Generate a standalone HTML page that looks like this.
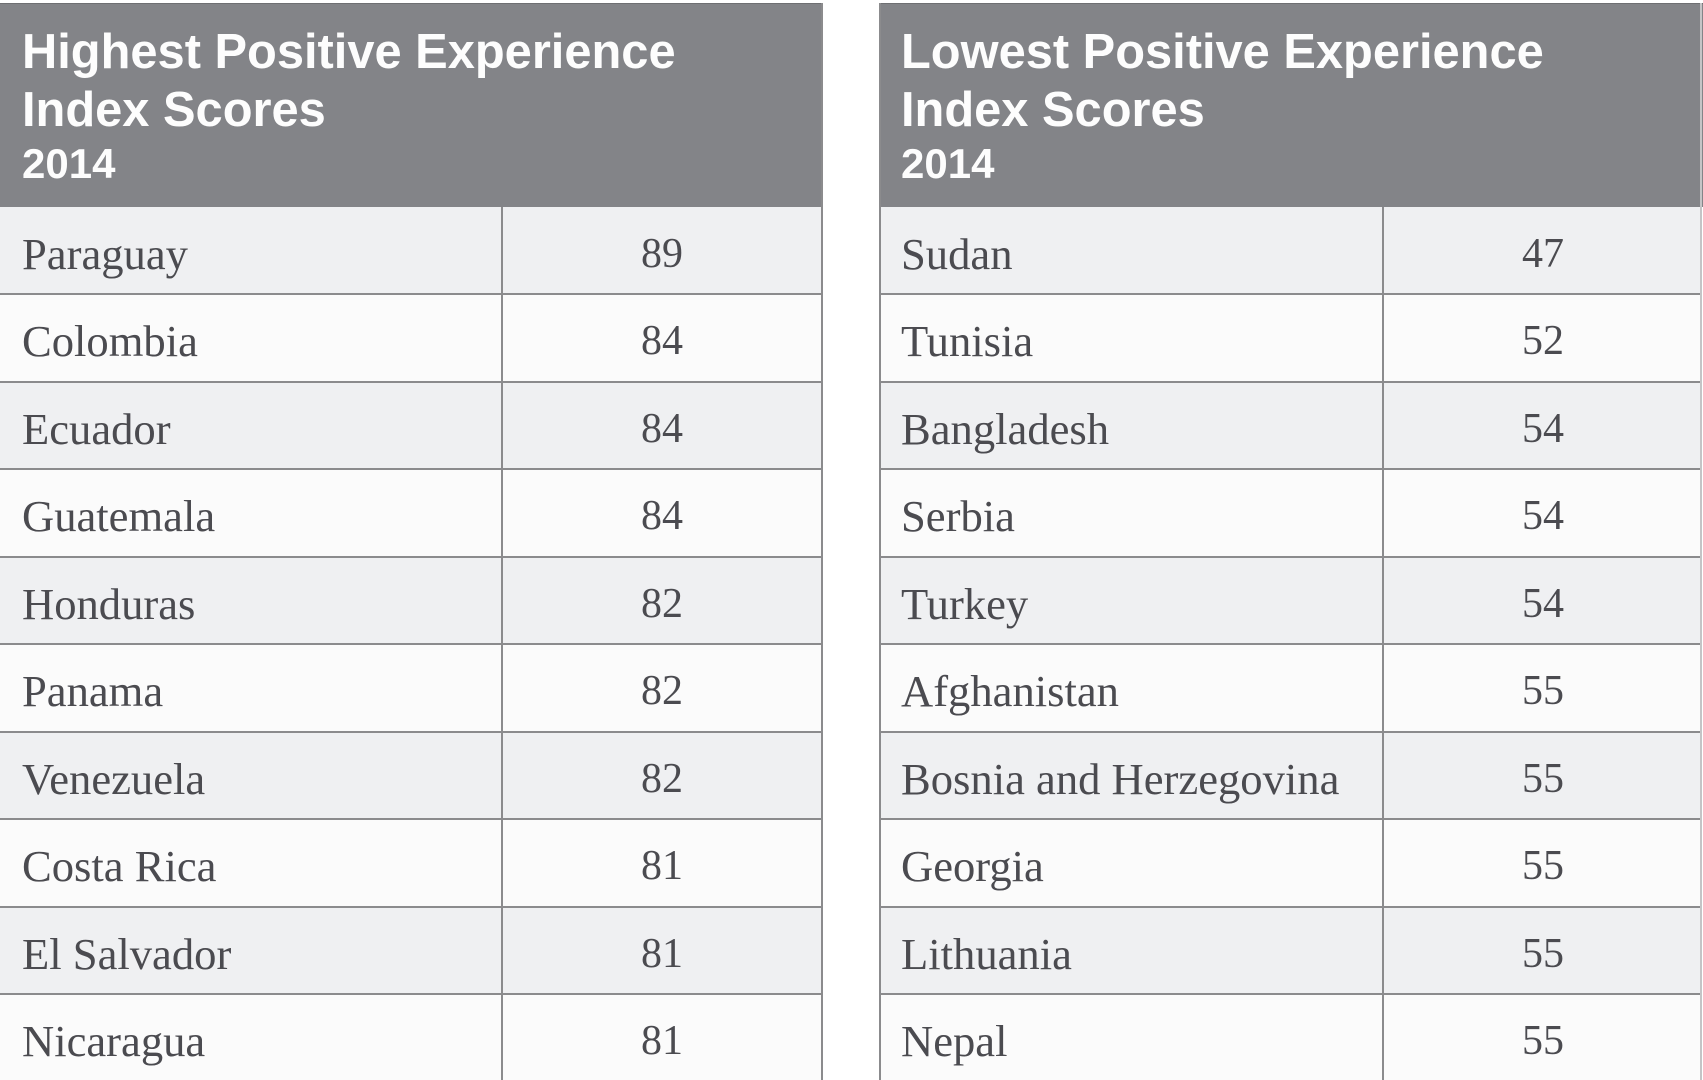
<!DOCTYPE html>
<html>
<head>
<meta charset="utf-8">
<style>
html,body{margin:0;padding:0;background:#ffffff;}
body{width:1703px;height:1080px;overflow:hidden;position:relative;}
.hdr{position:absolute;top:4px;height:203px;background:#838488;}
.ht{position:absolute;left:22px;color:#fdfdfd;font-family:"Liberation Sans",Arial,sans-serif;font-weight:bold;white-space:nowrap;}
.t1{font-size:48.8px;line-height:48.8px;top:24px;}
.t2{font-size:48.8px;line-height:48.8px;top:82px;}
.t3{font-size:42px;line-height:42px;top:139px;}
.row{position:absolute;}
.odd{background:#eff0f2;}
.even{background:#fbfbfb;}
.nm{position:absolute;top:25px;font-family:"Liberation Serif","Times New Roman",serif;font-size:44.6px;line-height:44px;color:#4b4b50;white-space:nowrap;}
.num{position:absolute;top:25px;font-family:"Liberation Serif","Times New Roman",serif;font-size:42px;line-height:44px;color:#4b4b50;text-align:center;white-space:nowrap;}
.hl{position:absolute;height:2px;background:#8b8b8d;}
.vl{position:absolute;width:2px;background:#8b8b8d;}
</style>
</head>
<body>

<!-- LEFT TABLE -->
<div class="hdr" style="left:0;width:823px;border-top:1px solid #6e6f72;top:3px;">
  <div class="ht t1">Highest Positive Experience</div>
  <div class="ht t2">Index Scores</div>
  <div class="ht t3">2014</div>
</div>

<div class="row odd"  style="left:0;width:823px;top:207px;height:87px;"><span class="nm" style="left:22px;">Paraguay</span><span class="num" style="left:503px;width:318px;">89</span></div>
<div class="row even" style="left:0;width:823px;top:294px;height:88px;"><span class="nm" style="left:22px;">Colombia</span><span class="num" style="left:503px;width:318px;">84</span></div>
<div class="row odd"  style="left:0;width:823px;top:382px;height:87px;"><span class="nm" style="left:22px;">Ecuador</span><span class="num" style="left:503px;width:318px;">84</span></div>
<div class="row even" style="left:0;width:823px;top:469px;height:88px;"><span class="nm" style="left:22px;">Guatemala</span><span class="num" style="left:503px;width:318px;">84</span></div>
<div class="row odd"  style="left:0;width:823px;top:557px;height:87px;"><span class="nm" style="left:22px;">Honduras</span><span class="num" style="left:503px;width:318px;">82</span></div>
<div class="row even" style="left:0;width:823px;top:644px;height:88px;"><span class="nm" style="left:22px;">Panama</span><span class="num" style="left:503px;width:318px;">82</span></div>
<div class="row odd"  style="left:0;width:823px;top:732px;height:87px;"><span class="nm" style="left:22px;">Venezuela</span><span class="num" style="left:503px;width:318px;">82</span></div>
<div class="row even" style="left:0;width:823px;top:819px;height:88px;"><span class="nm" style="left:22px;">Costa Rica</span><span class="num" style="left:503px;width:318px;">81</span></div>
<div class="row odd"  style="left:0;width:823px;top:907px;height:87px;"><span class="nm" style="left:22px;">El Salvador</span><span class="num" style="left:503px;width:318px;">81</span></div>
<div class="row even" style="left:0;width:823px;top:994px;height:86px;"><span class="nm" style="left:22px;">Nicaragua</span><span class="num" style="left:503px;width:318px;">81</span></div>

<!-- RIGHT TABLE -->
<div class="hdr" style="left:879px;width:824px;border-top:1px solid #6e6f72;top:3px;">
  <div class="ht t1">Lowest Positive Experience</div>
  <div class="ht t2">Index Scores</div>
  <div class="ht t3">2014</div>
</div>

<div class="row odd"  style="left:879px;width:823px;top:207px;height:87px;"><span class="nm" style="left:22px;">Sudan</span><span class="num" style="left:505px;width:318px;">47</span></div>
<div class="row even" style="left:879px;width:823px;top:294px;height:88px;"><span class="nm" style="left:22px;">Tunisia</span><span class="num" style="left:505px;width:318px;">52</span></div>
<div class="row odd"  style="left:879px;width:823px;top:382px;height:87px;"><span class="nm" style="left:22px;">Bangladesh</span><span class="num" style="left:505px;width:318px;">54</span></div>
<div class="row even" style="left:879px;width:823px;top:469px;height:88px;"><span class="nm" style="left:22px;">Serbia</span><span class="num" style="left:505px;width:318px;">54</span></div>
<div class="row odd"  style="left:879px;width:823px;top:557px;height:87px;"><span class="nm" style="left:22px;">Turkey</span><span class="num" style="left:505px;width:318px;">54</span></div>
<div class="row even" style="left:879px;width:823px;top:644px;height:88px;"><span class="nm" style="left:22px;">Afghanistan</span><span class="num" style="left:505px;width:318px;">55</span></div>
<div class="row odd"  style="left:879px;width:823px;top:732px;height:87px;"><span class="nm" style="left:22px;">Bosnia and Herzegovina</span><span class="num" style="left:505px;width:318px;">55</span></div>
<div class="row even" style="left:879px;width:823px;top:819px;height:88px;"><span class="nm" style="left:22px;">Georgia</span><span class="num" style="left:505px;width:318px;">55</span></div>
<div class="row odd"  style="left:879px;width:823px;top:907px;height:87px;"><span class="nm" style="left:22px;">Lithuania</span><span class="num" style="left:505px;width:318px;">55</span></div>
<div class="row even" style="left:879px;width:823px;top:994px;height:86px;"><span class="nm" style="left:22px;">Nepal</span><span class="num" style="left:505px;width:318px;">55</span></div>

<!-- horizontal separators -->
<div class="hl" style="left:0;width:823px;top:293px;"></div>
<div class="hl" style="left:0;width:823px;top:381px;"></div>
<div class="hl" style="left:0;width:823px;top:468px;"></div>
<div class="hl" style="left:0;width:823px;top:556px;"></div>
<div class="hl" style="left:0;width:823px;top:643px;"></div>
<div class="hl" style="left:0;width:823px;top:731px;"></div>
<div class="hl" style="left:0;width:823px;top:818px;"></div>
<div class="hl" style="left:0;width:823px;top:906px;"></div>
<div class="hl" style="left:0;width:823px;top:993px;"></div>

<div class="hl" style="left:879px;width:823px;top:293px;"></div>
<div class="hl" style="left:879px;width:823px;top:381px;"></div>
<div class="hl" style="left:879px;width:823px;top:468px;"></div>
<div class="hl" style="left:879px;width:823px;top:556px;"></div>
<div class="hl" style="left:879px;width:823px;top:643px;"></div>
<div class="hl" style="left:879px;width:823px;top:731px;"></div>
<div class="hl" style="left:879px;width:823px;top:818px;"></div>
<div class="hl" style="left:879px;width:823px;top:906px;"></div>
<div class="hl" style="left:879px;width:823px;top:993px;"></div>

<!-- vertical lines -->
<div class="vl" style="left:501px;top:207px;height:873px;"></div>
<div class="vl" style="left:821px;top:3px;height:1077px;"></div>
<div class="vl" style="left:879px;top:3px;height:1077px;"></div>
<div class="vl" style="left:1382px;top:207px;height:873px;"></div>
<div class="vl" style="left:1700px;top:3px;height:1077px;background:#c4c4c6;"></div>

</body>
</html>
